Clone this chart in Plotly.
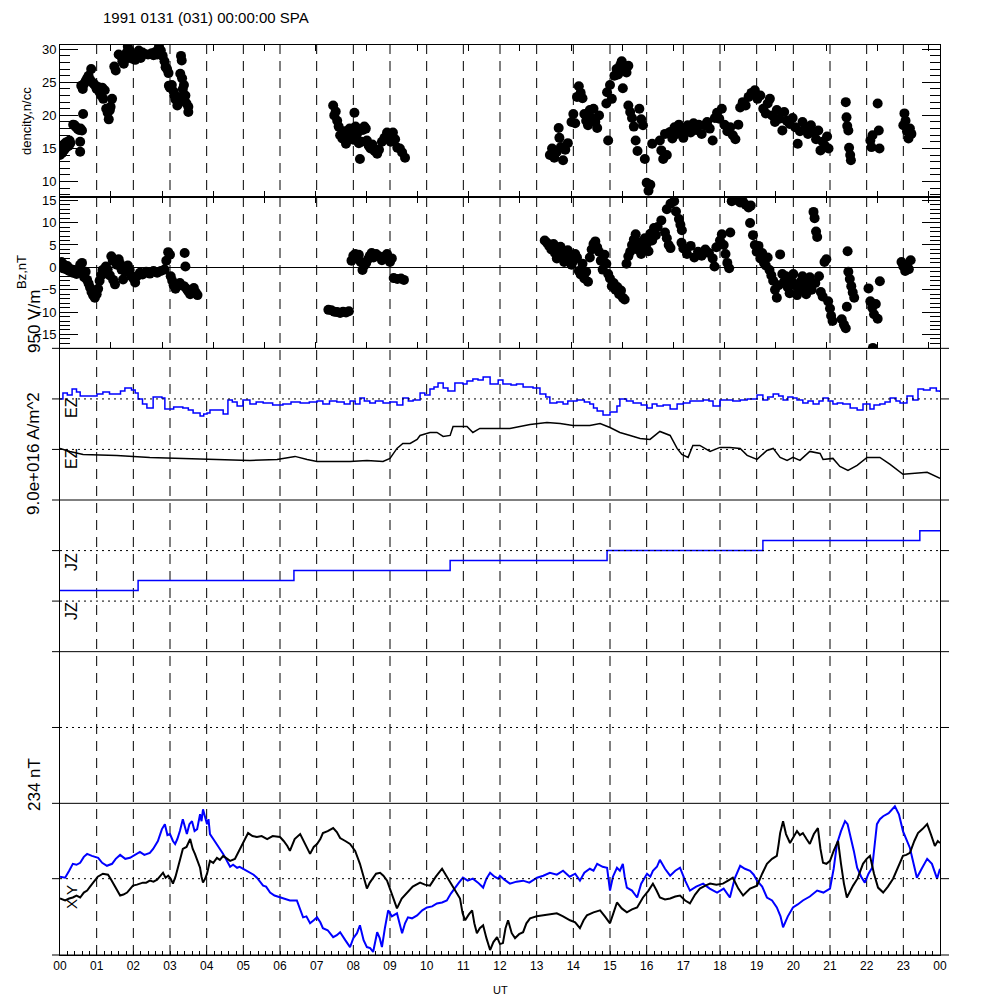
import plotly.graph_objects as go

FONT = "Liberation Sans, Arial, sans-serif"
TITLE = "1991 0131 (031) 00:00:00 SPA"

hour_ticks = list(range(25))
hour_labels = ["%02d" % h for h in range(24)] + ["00"]
upper_ticks = [0, 1.39, 2.79, 4.18, 5.57, 6.97, 8.36, 9.76, 11.15, 12.54,
               13.94, 15.33, 16.72, 18.12, 19.51, 20.9, 22.3, 23.69]
density_ticks = [10, 15, 20, 25, 30]
bz_ticks = [-15, -10, -5, 0, 5, 10, 15]

# density, n/cc  (hour, value)
density_pts = [
    (0.00, 14.0), (0.02, 14.6), (0.04, 15.2), (0.06, 14.3), (0.08, 15.0), (0.10, 15.6), (0.12, 14.8),
    (0.14, 15.3), (0.16, 15.9), (0.18, 15.2), (0.20, 15.6), (0.22, 16.0), (0.24, 15.4), (0.26, 16.2),
    (0.28, 15.8), (0.36, 18.6), (0.40, 18.5), (0.44, 18.2), (0.48, 18.0), (0.52, 17.8), (0.56, 18.0),
    (0.60, 17.7), (0.55, 14.5), (0.55, 16.0), (0.63, 20.2), (0.58, 24.5), (0.62, 24.0), (0.66, 24.8),
    (0.70, 25.2), (0.74, 25.6), (0.78, 26.0), (0.82, 25.4), (0.85, 27.0), (0.88, 25.0), (0.92, 24.8),
    (0.96, 24.5), (1.00, 24.0), (1.04, 24.3), (1.08, 23.5), (1.12, 23.0), (1.15, 24.2), (1.18, 22.5),
    (1.22, 23.8), (1.26, 21.0), (1.30, 20.4), (1.33, 19.4), (1.36, 20.8), (1.38, 21.3), (1.42, 22.5),
    (1.48, 27.4), (1.52, 26.8), (1.60, 29.2), (1.66, 29.0), (1.70, 28.2), (1.74, 27.8), (1.78, 28.5),
    (1.82, 29.5), (1.85, 30.4), (1.90, 29.8), (1.95, 28.6), (2.00, 29.0), (2.05, 28.4), (2.10, 29.3),
    (2.15, 29.8), (2.20, 28.7), (2.25, 29.5), (2.30, 29.3), (2.40, 29.2), (2.50, 29.4), (2.55, 29.1),
    (2.60, 29.6), (2.65, 29.2), (2.70, 30.4), (2.75, 29.8), (2.80, 29.0), (2.85, 28.2), (2.88, 27.3),
    (2.92, 27.0), (2.96, 26.4), (2.97, 24.5), (3.00, 24.2), (3.05, 24.6), (3.10, 23.6), (3.12, 23.0),
    (3.15, 22.4), (3.20, 21.5), (3.22, 22.8), (3.30, 29.0), (3.32, 28.3), (3.28, 26.3), (3.33, 25.6),
    (3.38, 24.6), (3.40, 22.2), (3.45, 21.8), (3.50, 21.3), (3.50, 20.5), (3.35, 24.0), (3.42, 23.0),
    (7.45, 21.5), (7.48, 20.0), (7.52, 20.6), (7.56, 19.2), (7.60, 18.3), (7.64, 17.0), (7.70, 16.5),
    (7.75, 17.6), (7.80, 15.7), (7.85, 16.8), (7.90, 18.0), (7.95, 17.5), (8.00, 16.3), (8.03, 20.4),
    (8.06, 18.3), (8.10, 17.2), (8.15, 15.8), (8.18, 13.4), (8.22, 16.0), (8.26, 17.8), (8.30, 18.3),
    (8.34, 18.0), (8.37, 16.2), (8.42, 15.4), (8.47, 15.0), (8.52, 15.6), (8.58, 14.6), (8.65, 14.2),
    (8.70, 14.8), (8.78, 16.0), (8.85, 16.6), (8.92, 17.4), (8.97, 17.0), (9.02, 16.0), (9.08, 17.4),
    (9.14, 16.4), (9.20, 15.1), (9.27, 15.0), (9.33, 14.4), (9.41, 13.6),
    (13.36, 14.0), (13.42, 15.0), (13.48, 13.6), (13.55, 14.5), (13.60, 18.1), (13.62, 16.6),
    (13.66, 15.2), (13.72, 13.2), (13.78, 14.8), (13.85, 15.8), (13.95, 19.0), (14.00, 20.2),
    (14.05, 18.8), (14.10, 22.8), (14.15, 24.4), (14.20, 23.4), (14.25, 22.6), (14.30, 20.2),
    (14.35, 19.2), (14.40, 18.5), (14.45, 20.8), (14.50, 19.6), (14.55, 21.0), (14.60, 19.0),
    (14.65, 18.1), (14.70, 20.0), (14.90, 21.8), (14.92, 23.5), (14.95, 16.2), (15.00, 24.6),
    (15.05, 22.5), (15.12, 26.0), (15.18, 27.0), (15.22, 26.2), (15.28, 27.6), (15.32, 28.2),
    (15.38, 27.0), (15.45, 26.5), (15.50, 27.5), (15.35, 24.1), (15.50, 21.5), (15.55, 20.5),
    (15.60, 19.6), (15.65, 18.3), (15.70, 16.2), (15.75, 14.6), (15.80, 21.0), (15.85, 19.4),
    (15.90, 18.5), (15.95, 13.4), (16.00, 9.8), (16.05, 8.6), (16.10, 9.5), (16.15, 15.7),
    (16.36, 16.2), (16.40, 14.7), (16.45, 13.4), (16.50, 17.2), (16.55, 14.0),
    (16.64, 17.5), (16.70, 16.5), (16.76, 18.2), (16.82, 17.2), (16.88, 18.6), (16.94, 17.6),
    (17.00, 16.6), (17.06, 17.8), (17.12, 18.5), (17.20, 17.4), (17.28, 18.8), (17.35, 17.8),
    (17.42, 18.6), (17.50, 17.2), (17.58, 18.5), (17.65, 19.0), (17.72, 18.0), (17.80, 16.2),
    (17.86, 19.6), (17.92, 20.4), (17.98, 19.5), (18.05, 21.0), (18.12, 18.6), (18.20, 17.6),
    (18.28, 18.2), (18.35, 17.0), (18.42, 16.4), (18.50, 18.6), (18.55, 21.2), (18.62, 22.0),
    (18.70, 21.5), (18.78, 22.8), (18.86, 23.4), (18.95, 23.8), (19.02, 22.5), (19.10, 23.0),
    (19.18, 21.0), (19.25, 20.3), (19.30, 21.8), (19.36, 22.5), (19.42, 20.0), (19.50, 19.0),
    (19.55, 20.8), (19.62, 19.5), (19.70, 17.7), (19.75, 20.5), (19.82, 19.2), (19.90, 18.7),
    (19.98, 19.6), (20.05, 18.2), (20.12, 15.7), (20.18, 17.6), (20.25, 19.0), (20.32, 18.0),
    (20.40, 17.2), (20.48, 18.5), (20.55, 17.4), (20.62, 16.4), (20.68, 17.7), (20.74, 14.7),
    (20.80, 16.0), (20.86, 15.4), (20.92, 16.8), (20.96, 15.0),
    (21.43, 22.0), (21.45, 19.7), (21.47, 18.4), (21.50, 17.7), (21.52, 15.1), (21.55, 14.0),
    (21.57, 13.2), (22.10, 16.2), (22.13, 15.2), (22.16, 17.0), (22.30, 21.8), (22.33, 17.7),
    (22.35, 15.0), (23.00, 18.5), (23.03, 20.3), (23.06, 19.2), (23.10, 17.6), (23.14, 16.5),
    (23.18, 18.0), (23.22, 17.2),
]

# Bz, nT (hour, value)
bz_pts = [
    (0.00, 0.8), (0.04, 1.2), (0.08, -0.2), (0.12, 0.5), (0.16, -0.4), (0.20, 0.3), (0.25, -0.8),
    (0.30, -0.4), (0.35, -1.2), (0.40, -0.6), (0.45, -1.5), (0.50, -0.8), (0.55, 0.6), (0.60, 1.0),
    (0.62, -1.2), (0.66, -2.2), (0.70, -1.0), (0.74, -2.8), (0.78, -3.6), (0.82, -4.5), (0.86, -5.5),
    (0.90, -6.2), (0.95, -6.8), (1.00, -6.0), (1.04, -4.8), (1.08, -3.0), (1.12, -1.8), (1.16, -0.6),
    (1.20, -1.4), (1.25, 0.2), (1.30, -0.5), (1.36, -1.8), (1.40, 2.5), (1.44, 1.5), (1.45, -2.8),
    (1.50, -3.8), (1.55, 0.6), (1.60, 1.8), (1.64, 0.8), (1.68, -0.5), (1.72, -2.7), (1.78, -1.0),
    (1.85, 0.4), (1.90, -0.6), (1.95, -2.0), (2.00, -2.5), (2.05, -3.4), (2.10, -2.0), (2.18, -1.2),
    (2.25, -1.6), (2.35, -1.0), (2.45, -1.4), (2.55, -0.8), (2.65, -1.2), (2.75, -0.8), (2.85, -0.5),
    (2.90, 1.5), (2.95, 3.4), (3.00, 2.8), (3.02, -2.0), (3.06, -3.0), (3.10, -4.0), (3.15, -4.8),
    (3.20, -4.2), (3.27, -3.5), (3.40, 3.2), (3.42, 0.2), (3.38, -4.2), (3.45, -4.8), (3.50, -5.4),
    (3.55, -6.0), (3.60, -5.2), (3.65, -4.6), (3.70, -5.6), (3.75, -6.2),
    (7.32, -9.5), (7.40, -9.6), (7.48, -9.9), (7.56, -10.0), (7.64, -10.2), (7.72, -9.9),
    (7.80, -10.1), (7.88, -9.8), (7.95, 1.5), (8.00, 2.6), (8.05, 3.0), (8.10, 2.0), (8.15, 2.8),
    (8.20, 1.2), (8.25, -0.6), (8.30, 0.4), (8.35, 1.0), (8.40, 1.8), (8.45, 2.6), (8.50, 3.2),
    (8.55, 2.2), (8.62, 3.0), (8.70, 2.5), (8.78, 1.6), (8.85, 2.4), (8.92, 3.0), (9.00, 1.2),
    (9.05, 2.0), (9.10, -2.4), (9.20, -2.6), (9.30, -2.5), (9.38, -2.8),
    (13.22, 6.0), (13.28, 5.5), (13.34, 4.8), (13.40, 4.0), (13.46, 5.2), (13.50, 3.2), (13.55, 2.0),
    (13.60, 3.6), (13.65, 4.6), (13.70, 3.0), (13.75, 1.2), (13.80, 2.2), (13.85, 3.8), (13.90, 2.6),
    (13.95, 0.6), (14.00, 1.5), (14.05, 3.0), (14.10, 2.2), (14.15, -0.8), (14.20, -1.6), (14.25, 0.8),
    (14.30, -2.5), (14.35, -1.0), (14.40, -3.2), (14.45, 2.2), (14.50, 4.0), (14.55, 5.2), (14.60, 5.8),
    (14.65, 4.5), (14.70, 3.5), (14.75, 1.5), (14.80, -0.5), (14.85, 2.8), (14.90, 0.8), (14.95, -1.5),
    (15.00, -2.5), (15.05, -4.2), (15.10, -3.5), (15.15, -5.0), (15.20, -4.4), (15.25, -6.0),
    (15.30, -5.2), (15.35, -6.8), (15.40, -7.2), (15.45, 0.8), (15.50, 2.5), (15.55, 3.5), (15.60, 5.0),
    (15.65, 6.2), (15.70, 7.4), (15.75, 4.0), (15.80, 5.6), (15.85, 3.0), (15.90, 4.6), (15.95, 6.5),
    (16.00, 5.2), (16.05, 3.6), (16.10, 7.5), (16.15, 6.0), (16.20, 8.8), (16.25, 7.2), (16.30, 9.0),
    (16.40, 10.5), (16.50, 7.8), (16.55, 6.5), (16.60, 5.0), (16.65, 4.3), (16.55, 13.0),
    (16.65, 14.2), (16.75, 14.8), (16.80, 12.5), (16.88, 10.8), (16.92, 9.5), (16.96, 8.3),
    (16.95, 5.5), (17.00, 4.2), (17.10, 3.0), (17.20, 4.8), (17.30, 2.2), (17.40, 3.5), (17.50, 2.6),
    (17.60, 4.0), (17.70, 3.2), (17.80, 2.0), (17.85, 0.2), (17.90, 4.5), (18.00, 6.0), (18.05, 7.4),
    (18.10, 5.0), (18.15, 3.0), (18.20, 1.0), (18.25, -0.2), (18.28, 7.8), (18.32, 14.8),
    (18.40, 15.4), (18.48, 15.0), (18.55, 14.5), (18.62, 14.8), (18.70, 14.0), (18.78, 13.4),
    (18.84, 13.8), (18.82, 9.9), (18.90, 7.2), (18.95, 5.0), (19.00, 3.5), (19.05, 4.8), (19.10, 2.0),
    (19.15, 3.2), (19.20, 1.0), (19.25, 0.4), (19.30, 2.2), (19.35, -0.6), (19.40, -1.8),
    (19.45, -3.0), (19.50, -5.0), (19.55, -6.8), (19.60, -4.0), (19.64, 2.9), (19.70, -1.5),
    (19.75, -3.2), (19.80, -2.0), (19.85, -4.5), (19.90, -5.8), (19.95, -3.0), (20.00, -1.5),
    (20.05, -4.0), (20.10, -6.2), (20.15, -5.0), (20.20, -3.2), (20.25, -2.0), (20.30, -4.4),
    (20.35, -6.0), (20.40, -3.5), (20.45, -2.2), (20.50, -5.0), (20.55, 12.4), (20.58, 11.0),
    (20.62, 8.0), (20.65, 6.8), (20.60, -3.5), (20.70, -2.0), (20.75, -5.5), (20.80, -6.5),
    (20.85, 1.2), (20.90, 1.8), (20.95, -7.6), (21.00, -9.2), (21.03, -10.8), (21.07, -12.0),
    (21.32, -11.6), (21.38, -12.8), (21.43, -13.6), (21.46, -8.8), (21.48, 3.6), (21.50, -1.0),
    (21.54, -2.6), (21.58, -4.2), (21.62, -5.6), (21.66, -6.8), (22.05, -4.7), (22.10, -7.6),
    (22.15, -9.0), (22.20, -10.5), (22.25, -8.2), (22.30, -11.5), (22.36, -3.1), (22.17, -18.0),
    (22.95, 1.2), (23.00, 0.2), (23.05, -0.8), (23.10, 0.6), (23.15, -0.4), (23.20, 1.6),
]

# EZ (blue, upper trace) offsets from its baseline
ez_blue_pts = [
    (0, 0), (0.08, 6), (0.2, 4), (0.33, 10), (0.45, 7), (0.55, 3), (0.8, 3), (1.01, 5), (1.17, 7),
    (1.35, 5), (1.55, 5), (1.65, 8), (1.77, 11), (1.95, 9), (2.05, 6), (2.13, 0), (2.25, -5),
    (2.37, -9), (2.54, 2), (2.78, 1), (2.86, -10), (3.1, -8), (3.35, -9), (3.5, -11), (3.63, -14),
    (3.82, -17), (3.92, -15), (4.01, -14), (4.09, -11), (4.45, -15), (4.58, -1), (4.7, -3), (4.83, -7),
    (4.99, -1), (5.18, -5), (5.35, -3), (5.54, -4), (5.8, -6), (6.08, -5), (6.3, -3), (6.55, -4),
    (6.8, -3), (7.01, -2), (7.17, -5), (7.35, -2), (7.55, -3), (7.75, -5), (7.91, -2), (8.05, -5),
    (8.18, 1), (8.3, -2), (8.45, -4), (8.6, -2), (8.81, -4), (9.0, -3), (9.19, -6), (9.35, 1),
    (9.5, -2), (9.63, -1), (9.82, 6), (9.95, 4), (10.09, 10), (10.2, 12), (10.31, 16), (10.45, 11),
    (10.58, 8), (10.77, 16), (10.99, 15), (11.1, 18), (11.26, 20), (11.4, 19), (11.54, 22),
    (11.73, 15), (11.95, 19), (12.08, 15), (12.3, 14), (12.45, 15), (12.63, 12), (12.9, 11),
    (13.09, 5), (13.25, 2), (13.36, -4), (13.55, -3), (13.72, -5), (13.85, -2), (14.1, -1),
    (14.3, -3), (14.45, -5), (14.55, -9), (14.65, -12), (14.81, -16), (15.0, -13), (15.19, -7),
    (15.27, 0), (15.45, -2), (15.63, -4), (15.85, -6), (16.01, -9), (16.15, -5), (16.28, -7),
    (16.45, -6), (16.64, -10), (16.83, -5), (17.0, -4), (17.18, -2), (17.35, -2), (17.54, -1),
    (17.7, -2), (17.81, -7), (18.0, -1), (18.2, -1), (18.35, -2), (18.55, -1), (18.74, 0),
    (19.01, 4), (19.17, -1), (19.3, 2), (19.45, 5), (19.6, 3), (19.72, -1), (19.85, 2), (19.99, 1),
    (20.1, -1), (20.26, -4), (20.4, -2), (20.54, -5), (20.7, -2), (20.81, 1), (20.95, -2),
    (21.08, -5), (21.2, -4), (21.35, -5), (21.55, -9), (21.74, -11), (21.9, -5), (22.09, -10),
    (22.2, -6), (22.36, -5), (22.5, -3), (22.64, 1), (22.8, -2), (22.91, -4), (23.1, 3), (23.26, -1),
    (23.4, 10), (23.55, 9), (23.73, 11), (23.9, 8), (24, 7),
]

# EZ (black, lower trace)
ez_black_pts = [
    (0, 1), (0.27, -2), (0.63, -5), (1.55, -6), (2.45, -8), (3.35, -9), (4.28, -10), (5.18, -11),
    (5.92, -10), (6.19, -8), (6.41, -7), (6.74, -10), (7.01, -12), (7.91, -12), (8.37, -11),
    (8.81, -12), (9.0, -9), (9.19, 1), (9.35, 6), (9.55, 6), (9.74, 10), (9.82, 14), (10.09, 17),
    (10.28, 17), (10.45, 13), (10.64, 14), (10.72, 23), (11.1, 23), (11.26, 17), (11.45, 21),
    (11.95, 21), (12.27, 21), (12.82, 25), (13.28, 27), (13.64, 26), (13.99, 24), (14.45, 24),
    (14.73, 26), (15.0, 22), (15.27, 17), (15.55, 14), (15.82, 11), (16.09, 10), (16.36, 18),
    (16.64, 14), (16.83, 1), (16.96, -5), (17.13, -8), (17.26, 4), (17.45, 4), (17.73, -2), (18.0, 2),
    (18.27, 2), (18.55, 1), (18.74, -6), (19.01, -10), (19.28, -1), (19.45, 1), (19.64, -8),
    (19.83, -11), (19.99, -8), (20.18, -11), (20.45, -2), (20.73, -4), (20.81, -10), (21.08, -9),
    (21.27, -17), (21.49, -21), (21.74, -16), (22.01, -8), (22.36, -8), (22.64, -15), (22.99, -25),
    (23.26, -24), (23.65, -23), (24, -29),
]

# JZ (blue) step values
jz_hours = [0, 2.13, 6.38, 10.64, 14.92, 19.17, 23.45, 24]
jz_blue = [-40, -30, -20, -10, 0, 10, 20, 20]

# Y component (blue)
by_pts = [
    (0, 2), (0.14, 1), (0.25, 8), (0.35, 15), (0.45, 14), (0.55, 16), (0.65, 22), (0.74, 25),
    (0.87, 23), (1.04, 21), (1.15, 16), (1.28, 13), (1.42, 15), (1.52, 20), (1.64, 24), (1.78, 20),
    (1.91, 21), (2.05, 24), (2.18, 27), (2.3, 24), (2.45, 26), (2.54, 30), (2.67, 38), (2.78, 50),
    (2.86, 55), (2.93, 44), (3.0, 45), (3.08, 38), (3.14, 35), (3.2, 40), (3.27, 48), (3.35, 60),
    (3.42, 52), (3.46, 45), (3.53, 55), (3.6, 58), (3.67, 48), (3.74, 50), (3.82, 65), (3.86, 58),
    (3.9, 70), (3.96, 62), (4.01, 55), (4.05, 60), (4.09, 45), (4.18, 40), (4.28, 35), (4.36, 30),
    (4.45, 25), (4.55, 18), (4.64, 12), (4.72, 14), (4.83, 11), (4.9, 12), (4.99, 10), (5.1, 8),
    (5.18, 6), (5.28, 4), (5.37, 1), (5.45, -3), (5.54, -7), (5.62, -8), (5.73, -14), (5.85, -17),
    (6.0, -19), (6.12, -20), (6.27, -22), (6.46, -22), (6.55, -30), (6.63, -39), (6.72, -38),
    (6.82, -45), (6.92, -42), (7.01, -39), (7.1, -44), (7.17, -50), (7.3, -52), (7.45, -59),
    (7.55, -57), (7.64, -54), (7.78, -62), (7.91, -69), (8.0, -60), (8.1, -55), (8.18, -47),
    (8.28, -62), (8.37, -69), (8.46, -70), (8.54, -74), (8.6, -62), (8.65, -54), (8.72, -60),
    (8.78, -69), (8.86, -50), (8.95, -32), (9.05, -38), (9.19, -35), (9.26, -45), (9.33, -55),
    (9.41, -45), (9.49, -39), (9.6, -40), (9.74, -37), (9.88, -32), (10.01, -29), (10.15, -28),
    (10.28, -25), (10.42, -24), (10.55, -22), (10.66, -15), (10.77, -9), (10.88, -4), (10.99, 1),
    (11.12, -2), (11.26, 0), (11.4, -4), (11.54, -9), (11.63, 0), (11.73, 6), (11.85, 2),
    (11.95, 0), (12.0, 3), (12.12, -1), (12.27, -5), (12.45, -3), (12.63, -2), (12.8, -4),
    (13.01, 1), (13.18, 3), (13.36, 6), (13.55, 4), (13.72, 8), (13.9, 2), (14.05, 5), (14.18, -2),
    (14.3, 6), (14.45, 10), (14.55, 8), (14.65, 15), (14.8, 12), (14.92, 11), (14.96, -2),
    (15.0, -12), (15.08, 2), (15.19, 11), (15.27, 8), (15.35, 15), (15.4, 2), (15.46, -9),
    (15.6, -12), (15.74, -19), (15.85, -5), (16.01, 5), (16.1, 2), (16.17, 8), (16.28, 12),
    (16.36, 19), (16.5, 10), (16.64, 3), (16.78, 8), (16.91, 11), (17.05, -2), (17.18, -12),
    (17.35, -8), (17.54, -5), (17.72, -10), (17.92, -14), (18.1, -10), (18.27, -19), (18.4, 0),
    (18.55, 13), (18.68, 10), (18.82, 8), (18.92, 4), (19.01, -2), (19.15, -8), (19.28, -19),
    (19.42, -22), (19.55, -29), (19.65, -38), (19.72, -49), (19.85, -38), (19.99, -29), (20.12, -26),
    (20.26, -22), (20.45, -18), (20.65, -12), (20.82, -14), (21.0, -10), (21.1, 10), (21.19, 35),
    (21.3, 48), (21.41, 58), (21.48, 55), (21.55, 45), (21.65, 28), (21.74, 11), (21.85, 2),
    (21.95, -4), (22.05, 5), (22.15, 11), (22.22, 35), (22.28, 55), (22.36, 60), (22.45, 63),
    (22.6, 66), (22.77, 73), (22.88, 65), (22.99, 48), (23.08, 40), (23.18, 31), (23.28, 15),
    (23.37, 1), (23.5, 10), (23.65, 20), (23.78, 15), (23.92, 0), (24, 10),
]

# X component (black)
bx_pts = [
    (0, -20), (0.14, -22), (0.25, -20), (0.35, -19), (0.45, -17), (0.55, -19), (0.65, -14),
    (0.74, -12), (0.82, -8), (0.9, -4), (1.03, 2), (1.17, 5), (1.31, 4), (1.38, 0), (1.45, -5),
    (1.55, -12), (1.64, -17), (1.73, -16), (1.83, -14), (1.92, -10), (1.99, -7), (2.1, -6),
    (2.26, -4), (2.35, -4), (2.45, -2), (2.55, -3), (2.65, -1), (2.72, 2), (2.81, 6), (2.88, 1),
    (2.95, 3), (3.02, 0), (3.08, -5), (3.15, 2), (3.22, 13), (3.28, 20), (3.35, 30), (3.45, 32),
    (3.55, 40), (3.62, 30), (3.68, 25), (3.75, 18), (3.82, 11), (3.86, 2), (3.9, -4), (3.96, 0),
    (4.01, 5), (4.09, 18), (4.18, 16), (4.28, 21), (4.36, 19), (4.45, 23), (4.55, 20), (4.64, 18),
    (4.77, 20), (4.85, 26), (4.91, 31), (5.02, 38), (5.13, 46), (5.25, 43), (5.37, 42), (5.5, 43),
    (5.65, 40), (5.8, 43), (6.0, 42), (6.1, 38), (6.2, 33), (6.27, 28), (6.4, 40), (6.55, 45),
    (6.65, 38), (6.75, 30), (6.82, 25), (6.92, 32), (7.01, 35), (7.1, 40), (7.17, 46), (7.3, 48),
    (7.45, 51), (7.55, 47), (7.64, 41), (7.78, 38), (7.91, 35), (8.05, 28), (8.18, 15), (8.28, 2),
    (8.37, -10), (8.45, -4), (8.54, 1), (8.62, 5), (8.73, 6), (8.82, 3), (8.92, -2), (9.05, -15),
    (9.19, -30), (9.32, -20), (9.46, -14), (9.62, -8), (9.82, -4), (9.95, -6), (10.09, -7),
    (10.25, 2), (10.42, 10), (10.52, 4), (10.64, -4), (10.78, -12), (10.91, -20), (10.98, -35),
    (11.05, -42), (11.15, -36), (11.24, -32), (11.3, -45), (11.37, -55), (11.45, -50), (11.54, -47),
    (11.63, -60), (11.73, -72), (11.82, -64), (11.92, -59), (12.0, -66), (12.08, -65), (12.15, -50),
    (12.22, -42), (12.32, -55), (12.41, -60), (12.52, -56), (12.63, -54), (12.72, -45), (12.82, -40),
    (13.0, -38), (13.17, -37), (13.35, -36), (13.55, -35), (13.72, -38), (13.91, -42), (14.05, -44),
    (14.18, -50), (14.28, -42), (14.37, -37), (14.55, -34), (14.73, -32), (14.86, -38), (15.0, -45),
    (15.1, -34), (15.19, -24), (15.32, -30), (15.46, -34), (15.6, -31), (15.74, -29), (15.82, -24),
    (15.9, -19), (16.05, -12), (16.17, -5), (16.27, -12), (16.36, -19), (16.5, -21), (16.64, -20),
    (16.78, -18), (16.91, -17), (17.05, -22), (17.18, -25), (17.32, -16), (17.45, -10), (17.6, -7),
    (17.73, -5), (17.9, -6), (18.08, -5), (18.22, -2), (18.35, 1), (18.5, -10), (18.63, -17),
    (18.82, -10), (19.01, -7), (19.15, 5), (19.28, 15), (19.42, 20), (19.55, 23), (19.6, 35),
    (19.64, 46), (19.72, 58), (19.8, 45), (19.91, 36), (20.0, 42), (20.1, 48), (20.18, 44),
    (20.26, 46), (20.36, 40), (20.45, 35), (20.56, 45), (20.67, 51), (20.74, 30), (20.81, 16),
    (20.9, 15), (21.0, 18), (21.1, 28), (21.22, 38), (21.3, 15), (21.38, -5), (21.46, -19),
    (21.55, -12), (21.63, -7), (21.75, 0), (21.9, 15), (22.0, 20), (22.09, 23), (22.2, 5),
    (22.31, -9), (22.45, -14), (22.58, -8), (22.72, 0), (22.85, 12), (22.99, 23), (23.08, 24),
    (23.18, 26), (23.3, 38), (23.4, 46), (23.52, 50), (23.65, 55), (23.75, 45), (23.86, 33),
    (23.94, 38), (24, 36),
]


def split(pts):
    return [p[0] for p in pts], [p[1] for p in pts]


fig = go.Figure()

dh, dv = split(density_pts)
fig.add_trace(go.Scatter(x=dh, y=dv, mode="markers", marker=dict(size=10, color="black"),
                         xaxis="x", yaxis="y", showlegend=False))
bh, bv = split(bz_pts)
fig.add_trace(go.Scatter(x=bh, y=bv, mode="markers", marker=dict(size=10, color="black"),
                         xaxis="x2", yaxis="y2", showlegend=False))
eh, ev = split(ez_blue_pts)
fig.add_trace(go.Scatter(x=eh, y=ev, mode="lines", line=dict(color="#0000ff", width=1.5, shape="hv"),
                         xaxis="x3", yaxis="y3", showlegend=False))
kh, kv = split(ez_black_pts)
fig.add_trace(go.Scatter(x=kh, y=kv, mode="lines", line=dict(color="black", width=1.5),
                         xaxis="x3", yaxis="y4", showlegend=False))
fig.add_trace(go.Scatter(x=jz_hours, y=jz_blue, mode="lines",
                         line=dict(color="#0000ff", width=1.5, shape="hv"),
                         xaxis="x4", yaxis="y5", showlegend=False))
yh, yv = split(by_pts)
fig.add_trace(go.Scatter(x=yh, y=yv, mode="lines", line=dict(color="#0000ff", width=2),
                         xaxis="x6", yaxis="y8", showlegend=False))
xh, xv = split(bx_pts)
fig.add_trace(go.Scatter(x=xh, y=xv, mode="lines", line=dict(color="black", width=2),
                         xaxis="x6", yaxis="y8", showlegend=False))

D = [[5/6, 1], [4/6, 5/6], [3/6, 4/6], [2/6, 3/6], [1/6, 2/6], [0, 1/6]]
tickfont = dict(family=FONT, size=13, color="black")

upper_x = dict(domain=[0, 1], range=[0, 24], showline=True, linecolor="black", linewidth=1,
               mirror="ticks", ticks="inside", ticklen=6, tickcolor="black",
               tickmode="array", tickvals=upper_ticks, showticklabels=False,
               showgrid=False, zeroline=False)
hidden_x = dict(domain=[0, 1], range=[0, 24], visible=False)
plain_y = dict(showline=True, linecolor="black", linewidth=1, mirror=True, ticks="",
               showticklabels=False, showgrid=False, zeroline=False)

# the page body has an 8px margin, so the figure is 992 px wide/high
fig.update_layout(
    width=992, height=992,
    margin=dict(l=52, r=60, t=37, b=45),
    paper_bgcolor="white", plot_bgcolor="rgba(0,0,0,0)",
    font=dict(family=FONT, color="black"),
    xaxis=dict(upper_x, anchor="y"),
    xaxis2=dict(upper_x, anchor="y2"),
    xaxis3=dict(hidden_x, anchor="y3"),
    xaxis4=dict(hidden_x, anchor="y5"),
    xaxis5=dict(hidden_x, anchor="y7"),
    xaxis6=dict(domain=[0, 1], range=[0, 24], anchor="y8", showline=True, linecolor="black",
                ticks="inside", ticklen=4, tickcolor="black", tickmode="array",
                tickvals=hour_ticks, ticktext=hour_labels, tickfont=dict(family=FONT, size=12),
                minor=dict(tickmode="linear", tick0=0, dtick=0.2, ticks="inside", ticklen=4,
                           tickcolor="black"),
                showgrid=False, zeroline=False),
    yaxis=dict(domain=D[0], anchor="x", range=[7.7, 30.65], showline=True, linecolor="black",
               mirror="ticks", ticks="inside", ticklen=18, tickcolor="black",
               tickmode="array", tickvals=density_ticks, tickfont=tickfont,
               minor=dict(tickmode="linear", tick0=0, dtick=1, ticks="inside", ticklen=10,
                          tickcolor="black"),
               showgrid=False, zeroline=False),
    yaxis2=dict(domain=D[1], anchor="x2", range=[-18.1, 15.8], showline=True, linecolor="black",
                mirror="ticks", ticks="inside", ticklen=18, tickcolor="black",
                tickmode="array", tickvals=bz_ticks, tickfont=tickfont,
                minor=dict(tickmode="linear", tick0=0, dtick=1, ticks="inside", ticklen=10,
                           tickcolor="black"),
                showgrid=False, zeroline=True, zerolinecolor="black", zerolinewidth=1),
    yaxis3=dict(plain_y, domain=D[2], anchor="x3", range=[-101.3, 50.7]),
    yaxis4=dict(overlaying="y3", anchor="x3", range=[-50.7, 101.3], visible=False),
    yaxis5=dict(plain_y, domain=D[3], anchor="x4", range=[-101.3, 50.7]),
    yaxis6=dict(overlaying="y5", anchor="x4", range=[-50.7, 101.3], visible=False),
    yaxis7=dict(plain_y, domain=D[4], anchor="x5", range=[-1, 1]),
    yaxis8=dict(plain_y, domain=D[5], anchor="x6", range=[-77, 76]),
)

shapes = []
for h in range(1, 24):
    shapes.append(dict(type="line", xref="x", yref="paper", x0=h, x1=h, y0=0, y1=1,
                       line=dict(color="black", width=1, dash="10px,7px"), layer="below"))
L = -8 / 880
R = 1 + 9 / 880
for yb in [4/6, 3/6, 2/6, 1/6, 0]:
    shapes.append(dict(type="line", xref="paper", yref="paper", x0=L, x1=R, y0=yb, y1=yb,
                       line=dict(color="black", width=1)))
for ax in ["y3", "y4", "y5", "y6", "y7", "y8"]:
    shapes.append(dict(type="line", xref="paper", yref=ax, x0=0, x1=1, y0=0, y1=0,
                       line=dict(color="black", width=1, dash="2px,4px")))
    shapes.append(dict(type="line", xref="paper", yref=ax, x0=L, x1=0, y0=0, y1=0,
                       line=dict(color="black", width=1)))
    shapes.append(dict(type="line", xref="paper", yref=ax, x0=1, x1=R, y0=0, y1=0,
                       line=dict(color="black", width=1)))
fig.update_layout(shapes=shapes)


def px_x(p):
    return (p - 60) / 880


def px_y(p):
    return (955 - p) / 910


ann = [
    ("dencity,n/cc", 26, 121, -90, 13, "center", "middle"),
    ("Bz,nT", 21, 272, -90, 13, "center", "middle"),
    ("950 V/m", 34, 322, -90, 17, "center", "middle"),
    ("9.0e+016 A/m^2", 34, 454, -90, 17, "center", "middle"),
    ("234 nT", 34, 785, -90, 17, "center", "middle"),
    ("EZ", 71, 408, -90, 16, "center", "middle"),
    ("EZ", 71, 459, -90, 16, "center", "middle"),
    ("JZ", 71, 562, -90, 16, "center", "middle"),
    ("JZ", 71, 611, -90, 16, "center", "middle"),
    ("X Y", 71, 897, -90, 15, "center", "middle"),
    ("UT", 500, 990, 0, 11, "center", "middle"),
]
for text, ax_, ay_, ang, size, xa, ya in ann:
    fig.add_annotation(text=text, x=px_x(ax_), y=px_y(ay_), xref="paper", yref="paper",
                       showarrow=False, textangle=ang, xanchor=xa, yanchor=ya,
                       font=dict(family=FONT, size=size, color="black"))

# title, anchored at the very top of the figure so it is not clipped
fig.add_annotation(text=TITLE, x=px_x(102), y=px_y(8), xref="paper", yref="paper",
                   showarrow=False, xanchor="left", yanchor="top", borderpad=0,
                   font=dict(family=FONT, size=15, color="black"))

fig.write_html("out.html")
